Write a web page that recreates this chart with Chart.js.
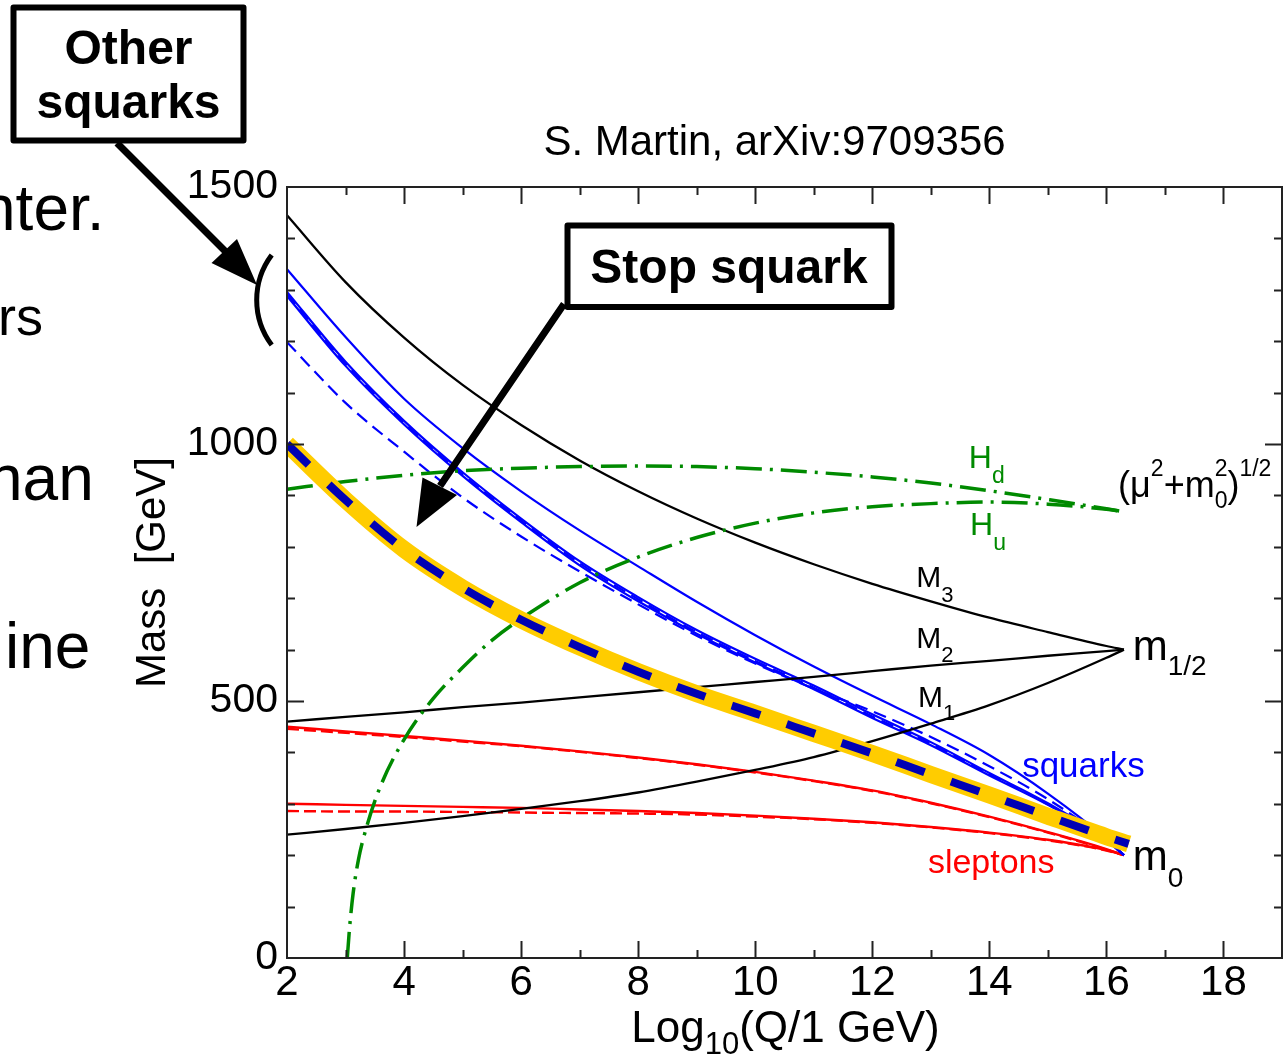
<!DOCTYPE html>
<html>
<head>
<meta charset="utf-8">
<title>Running soft masses</title>
<script src="https://cdn.jsdelivr.net/npm/chart.js@4/dist/chart.umd.min.js"></script>
<style>
  html, body { margin: 0; padding: 0; background: #fff; overflow: hidden; }
  canvas { display: block; }
</style>
</head>
<body>
<canvas id="c" width="1286" height="1058"></canvas>
<script>
// RG running of soft SUSY-breaking masses from the GUT scale down to the weak scale
// (m0 = 200 GeV, m1/2 = 600 GeV at log10(Q) = 16.3).

const logQ = [2, 3, 4, 5, 6, 7, 8, 9, 10, 11, 12, 13, 14, 15, 16, 16.3];

// gaugino masses
const gluinoM3 = [1445, 1315, 1207, 1115, 1037, 968, 908, 855, 808, 766, 728, 694, 662, 634, 607, 600];
const winoM2   = [460, 469, 478, 488, 497, 507, 517, 527, 537, 547, 558, 569, 578, 588, 597, 600];
const binoM1   = [240, 251, 263, 276, 290, 305, 322, 343, 366, 391, 422, 456, 492, 535, 584, 600];

// squarks (solid: first family, dashed: third family)
const squarkQL   = [1340, 1208, 1088, 992, 908, 832, 762, 693, 628, 567, 510, 455, 395, 320, 232, 200];
const squarkUR   = [1296, 1160, 1045, 945, 855, 772, 702, 638, 582, 530, 474, 420, 360, 301, 230, 200];
const squarkDR   = [1288, 1152, 1038, 938, 848, 764, 694, 631, 575, 523, 467, 414, 355, 298, 229, 200];
const sbottomR   = [1292, 1156, 1041, 941, 851, 768, 698, 634, 578, 526, 470, 417, 357, 299, 229, 200];
const squarkQ3   = [1198, 1080, 985, 896, 820, 752, 688, 627, 573, 524, 480, 430, 373, 309, 230, 200];

// sleptons
const sleptonL   = [450, 441, 432, 423, 413, 402, 390, 377, 362, 345, 326, 302, 275, 245, 212, 200];
const sleptonL3  = [446, 438, 430, 421, 412, 401, 389, 376, 361, 344, 325, 301, 274, 244, 211, 200];
const sleptonE   = [300, 298, 296, 294, 292, 289, 286, 282, 277, 271, 264, 255, 244, 230, 210, 200];
const sleptonE3  = [286, 285, 285, 284, 283, 282, 281, 279, 275, 270, 263, 254, 243, 229, 209, 200];

// Higgs mass parameters (mu^2 + m_H^2)^(1/2)
const higgsHd    = [912, 927, 939, 948, 953, 956, 957, 956, 952, 945, 936, 924, 909, 892, 874, 868];
const higgsHuLogQ = [3.03, 3.07, 3.13, 3.22, 3.36, 3.6, 4, 4.5, 5, 5.5, 6, 7, 8, 9, 10, 11, 12, 13, 14, 15, 16, 16.3];
const higgsHu     = [0, 60, 126, 191, 255, 335, 425, 505, 565, 618, 660, 730, 780, 818, 846, 866, 878, 884, 887, 883, 873, 868];

// highlighted stop squark
const stopLogQ = [2, 3, 4, 5, 6, 7, 8, 9, 10, 11, 12, 13, 14, 15, 16, 16.38];
const stopMass = [1000, 891, 795, 720, 658, 605, 557, 514, 476, 437, 398, 357, 317, 276, 236, 222];

// axis ticks
const xTickLabels = [2, 4, 6, 8, 10, 12, 14, 16, 18];
const yTickLabels = [0, 500, 1000, 1500];

const FONT = "'Liberation Sans', Arial, Helvetica, sans-serif";
const BLUE = '#0000ff', RED = '#ff0000', GREEN = '#008a00', BLACK = '#000000';

function pts(xs, ys) { return xs.map((x, i) => ({ x: x, y: ys[i] })); }

function curve(xs, ys, color, width, dash) {
  return {
    data: pts(xs, ys),
    borderColor: color,
    borderWidth: width,
    borderDash: dash || [],
    pointRadius: 0,
    fill: false,
    cubicInterpolationMode: 'monotone',
    borderCapStyle: 'butt'
  };
}

// Labels placed next to the curves, in data coordinates: [text, font size, baseline shift, advance]
const curveNotes = [
  { x: 12.75, y: 722, color: BLACK, parts: [['M', 30, 0], ['3', 22, 15]] },
  { x: 12.75, y: 603, color: BLACK, parts: [['M', 30, 0], ['2', 22, 14]] },
  { x: 12.78, y: 488, color: BLACK, parts: [['M', 30, 0], ['1', 22, 13]] },
  { x: 16.45, y: 580, color: BLACK, parts: [['m', 42, 0], ['1/2', 28, 15]] },
  { x: 16.45, y: 171, color: BLACK, parts: [['m', 42, 0], ['0', 28, 17]] },
  { x: 14.56, y: 352, color: BLUE, parts: [['squarks', 35, 0]] },
  { x: 12.95, y: 165, color: RED, parts: [['sleptons', 34, 0]] },
  { x: 13.65, y: 953, color: GREEN, parts: [['H', 32, 0], ['d', 23, 15]] },
  { x: 13.67, y: 823, color: GREEN, parts: [['H', 32, 0], ['u', 23, 15]] },
  { x: 16.20, y: 897, color: BLACK, parts: [['(μ', 36, 0], ['2', 23, -21], ['+m', 36, 0], ['0', 23, 11, false], ['2', 23, -21], [')', 36, 0], ['1/2', 23, -21]] }
];

function drawParts(ctx, x, y, parts, color) {
  ctx.fillStyle = color;
  ctx.textAlign = 'left';
  ctx.textBaseline = 'alphabetic';
  let cx = x;
  for (const p of parts) {
    ctx.font = p[1] + 'px ' + FONT;
    ctx.fillText(p[0], cx, y + p[2]);
    if (p[3] !== false) cx += ctx.measureText(p[0]).width;
  }
}

const framePlugin = {
  id: 'frameAndNotes',
  afterDraw(chart) {
    const ctx = chart.ctx;
    const a = chart.chartArea;
    const xs = chart.scales.x, ys = chart.scales.y;
    ctx.save();

    // frame with inward ticks on all four sides
    ctx.strokeStyle = '#222';
    ctx.lineWidth = 2;
    ctx.strokeRect(a.left, a.top, a.right - a.left, a.bottom - a.top);
    ctx.beginPath();
    xs.ticks.forEach(t => {
      if (t.value <= xs.min || t.value >= xs.max) return;
      const px = Math.round(xs.getPixelForValue(t.value)) + 0.5;
      const len = t.value % 2 === 0 ? 17 : 8;
      ctx.moveTo(px, a.bottom); ctx.lineTo(px, a.bottom - len);
      ctx.moveTo(px, a.top); ctx.lineTo(px, a.top + len);
    });
    ys.ticks.forEach(t => {
      if (t.value <= ys.min || t.value >= ys.max) return;
      const py = Math.round(ys.getPixelForValue(t.value)) + 0.5;
      const len = t.value % 500 === 0 ? 17 : 8;
      ctx.moveTo(a.left, py); ctx.lineTo(a.left + len, py);
      ctx.moveTo(a.right, py); ctx.lineTo(a.right - len, py);
    });
    ctx.stroke();

    // curve labels
    curveNotes.forEach(n => drawParts(ctx, xs.getPixelForValue(n.x), ys.getPixelForValue(n.y), n.parts, n.color));

    // x-axis title with subscript
    const xTitle = [['Log', 44, 0], ['10', 31, 12], ['(Q/1 GeV)', 44, 0]];
    let w = 0;
    xTitle.forEach(p => { ctx.font = p[1] + 'px ' + FONT; w += ctx.measureText(p[0]).width; });
    drawParts(ctx, (a.left + a.right) / 2 - w / 2 + 1, 1042, xTitle, BLACK);

    // heading
    ctx.fillStyle = BLACK;
    ctx.font = '42px ' + FONT;
    ctx.textAlign = 'center';
    ctx.fillText('S. Martin, arXiv:9709356', 774.5, 155);

    // slide text running in from the left
    ctx.textAlign = 'left';
    ctx.font = '64px ' + FONT;
    ctx.fillText('nter.', -20, 230);
    ctx.fillText('han', -13, 500);
    ctx.fillText('ine', 5, 668);
    ctx.font = '54px ' + FONT;
    ctx.fillText('rs', -2, 335);

    // callout boxes
    ctx.lineJoin = 'round';
    ctx.lineWidth = 6;
    ctx.strokeStyle = BLACK;
    ctx.fillStyle = '#fff';
    ctx.fillRect(13.5, 7.5, 230, 133);
    ctx.strokeRect(13.5, 7.5, 230, 133);
    ctx.fillRect(567.5, 225.5, 324, 81.5);
    ctx.strokeRect(567.5, 225.5, 324, 81.5);
    ctx.fillStyle = BLACK;
    ctx.font = 'bold 48px ' + FONT;
    ctx.textAlign = 'center';
    ctx.fillText('Other', 128.5, 64);
    ctx.fillText('squarks', 128.5, 118);
    ctx.fillText('Stop squark', 729, 283);

    // arrows
    ctx.lineCap = 'butt';
    ctx.lineWidth = 7;
    ctx.beginPath();
    ctx.moveTo(117, 143); ctx.lineTo(226, 252);
    ctx.moveTo(564, 304); ctx.lineTo(440, 486);
    ctx.stroke();
    ctx.beginPath();
    ctx.moveTo(257, 285); ctx.lineTo(211.5, 263); ctx.lineTo(237, 239); ctx.closePath();
    ctx.moveTo(416.5, 527); ctx.lineTo(422.5, 477.5); ctx.lineTo(457, 495); ctx.closePath();
    ctx.fill();

    // bracket around the other squarks
    ctx.lineWidth = 5;
    ctx.beginPath();
    ctx.arc(331.7, 300, 75, Math.PI - 0.6435, Math.PI + 0.6435);
    ctx.stroke();

    ctx.restore();
  }
};

const datasets = [
  curve(stopLogQ, stopMass, '#0000b4', 8, [30, 28]),
  curve(stopLogQ, stopMass, '#ffcc00', 17),
  curve(logQ, higgsHd, GREEN, 3.5, [26, 8, 3, 8]),
  curve(higgsHuLogQ, higgsHu, GREEN, 3.5, [26, 8, 3, 8]),
  curve(logQ, gluinoM3, BLACK, 2.3),
  curve(logQ, winoM2, BLACK, 2.3),
  curve(logQ, binoM1, BLACK, 2.3),
  curve(logQ, squarkQL, BLUE, 2.2),
  curve(logQ, squarkUR, BLUE, 2.2),
  curve(logQ, squarkDR, BLUE, 2.2),
  curve(logQ, sbottomR, BLUE, 2.2, [13, 7]),
  curve(logQ, squarkQ3, BLUE, 2.2, [13, 7]),
  curve(logQ, sleptonL, RED, 2.4),
  curve(logQ, sleptonL3, RED, 2.4, [12, 5]),
  curve(logQ, sleptonE, RED, 2.4),
  curve(logQ, sleptonE3, RED, 2.4, [12, 5])
];

new Chart(document.getElementById('c'), {
  type: 'line',
  data: { datasets: datasets },
  options: {
    responsive: false,
    animation: false,
    events: [],
    layout: { padding: { left: 0, right: 4, top: 187, bottom: 0 } },
    plugins: { legend: { display: false }, tooltip: { enabled: false }, title: { display: false } },
    scales: {
      x: {
        type: 'linear',
        min: 2,
        max: 19,
        grid: { display: false, drawTicks: false },
        border: { display: false },
        ticks: {
          stepSize: 1,
          autoSkip: false,
          maxRotation: 0,
          padding: 0,
          color: BLACK,
          font: { family: FONT, size: 42 },
          callback: v => xTickLabels.includes(v) ? String(v) : ''
        },
        afterFit: s => { s.height = 100; }
      },
      y: {
        type: 'linear',
        min: 0,
        max: 1500,
        grid: { display: false, drawTicks: false },
        border: { display: false },
        ticks: {
          stepSize: 100,
          autoSkip: false,
          padding: 9,
          color: BLACK,
          font: { family: FONT, size: 41 },
          callback: v => yTickLabels.includes(v) ? String(v) : ''
        },
        title: {
          display: true,
          text: 'Mass  [GeV]',
          color: BLACK,
          font: { family: FONT, size: 42 },
          padding: { top: 128, bottom: 0 }
        },
        afterFit: s => { s.width = 287; }
      }
    }
  },
  plugins: [framePlugin]
});
</script>
</body>
</html>
